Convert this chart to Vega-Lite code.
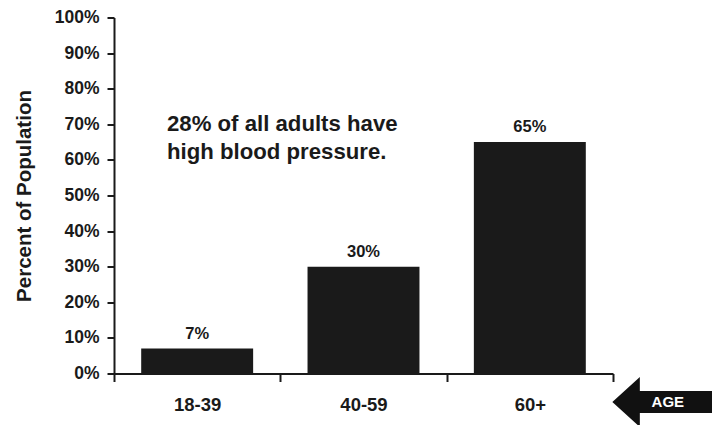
{
  "$schema": "https://vega.github.io/schema/vega-lite/v6.json",
  "width": 499,
  "height": 356,
  "autosize": {"type": "none"},
  "padding": {"left": 114, "top": 17.5, "right": 99, "bottom": 51.5},
  "background": "white",
  "config": {
    "view": {"stroke": null},
    "font": "Liberation Sans",
    "axis": {
      "grid": false,
      "domainColor": "#1a1a1a",
      "domainWidth": 2,
      "tickColor": "#1a1a1a",
      "tickWidth": 2,
      "labelColor": "#1a1a1a",
      "labelFont": "Liberation Sans",
      "labelFontWeight": "bold",
      "titleFont": "Liberation Sans",
      "titleColor": "#1a1a1a"
    },
    "axisY": {
      "labelOverlap": false,
      "tickSize": 7,
      "labelPadding": 8,
      "labelFontSize": 17.5,
      "titleFontSize": 20.5,
      "titleFontWeight": "bold",
      "titlePadding": 20
    }
  },
  "datasets": {
    "bars": [
      {"age": "18-39", "pct": 0.07},
      {"age": "40-59", "pct": 0.30},
      {"age": "60+", "pct": 0.65}
    ],
    "note": [{"note": "28% of all adults have\nhigh blood pressure.", "at": "18-39", "level": 0.681}],
    "arrow": [{"label": "AGE", "at": "60+", "level": -0.08}]
  },
  "layer": [
    {
      "data": {"name": "bars"},
      "mark": {"type": "bar", "color": "#1a1a1a", "width": {"band": 0.673}},
      "encoding": {
        "x": {
          "field": "age",
          "type": "nominal",
          "sort": null,
          "scale": {"paddingInner": 0, "paddingOuter": 0},
          "axis": {"title": null, "labelAngle": 0, "tickBand": "extent", "tickSize": 8, "labelPadding": 14, "labelFontSize": 18.5}
        },
        "y": {
          "field": "pct",
          "type": "quantitative",
          "scale": {"domain": [0, 1], "nice": false},
          "axis": {"title": "Percent of Population", "format": ".0%", "tickCount": 20, "values": [0, 0.1, 0.2, 0.3, 0.4, 0.5, 0.6, 0.7, 0.8, 0.9, 1], "labelOverlap": false}
        }
      }
    },
    {
      "data": {"name": "bars"},
      "mark": {"type": "text", "fontSize": 16.5, "fontWeight": "bold", "color": "#1a1a1a", "baseline": "alphabetic", "dy": -10},
      "encoding": {
        "x": {"field": "age", "type": "nominal", "sort": null},
        "y": {"field": "pct", "type": "quantitative"},
        "text": {"field": "pct", "type": "quantitative", "format": ".0%"}
      }
    },
    {
      "data": {"name": "note"},
      "mark": {"type": "text", "align": "left", "baseline": "alphabetic", "fontSize": 22.2, "fontWeight": "bold", "lineHeight": 28, "lineBreak": "\n", "color": "#1a1a1a", "dx": 53},
      "encoding": {
        "x": {"field": "at", "type": "nominal", "bandPosition": 0},
        "y": {"field": "level", "type": "quantitative"},
        "text": {"field": "note", "type": "nominal"}
      }
    },
    {
      "data": {"name": "arrow"},
      "mark": {"type": "point", "shape": "M -1 0 L -0.45 -0.5 L -0.45 -0.22 L 1.1 -0.22 L 1.1 0.22 L -0.45 0.22 L -0.45 0.5 Z", "filled": true, "color": "#111111", "opacity": 1, "size": 10000, "strokeWidth": 0, "xOffset": 132.5},
      "encoding": {
        "x": {"field": "at", "type": "nominal"},
        "y": {"field": "level", "type": "quantitative"}
      }
    },
    {
      "data": {"name": "arrow"},
      "mark": {"type": "text", "fontSize": 15, "fontWeight": "bold", "color": "white", "baseline": "middle", "align": "center", "dx": 138},
      "encoding": {
        "x": {"field": "at", "type": "nominal"},
        "y": {"field": "level", "type": "quantitative"},
        "text": {"field": "label", "type": "nominal"}
      }
    }
  ]
}
